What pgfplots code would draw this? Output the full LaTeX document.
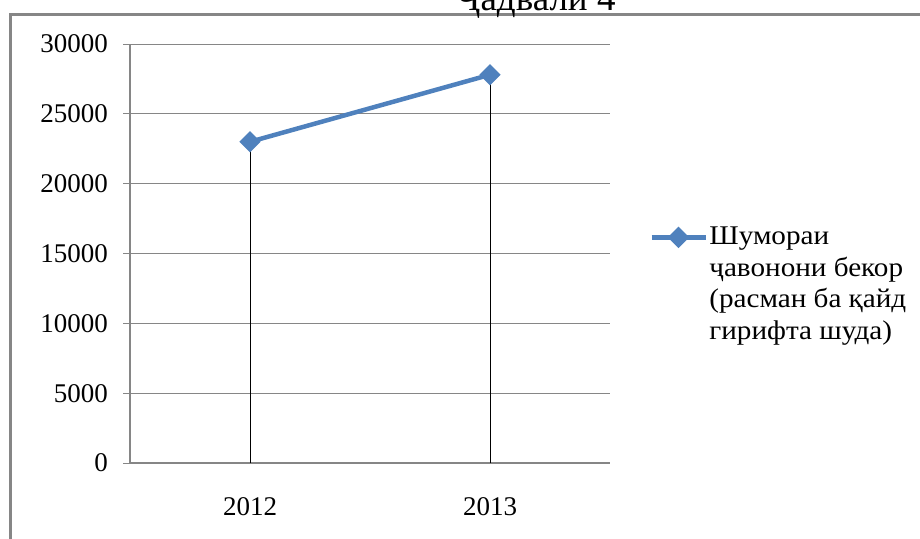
\documentclass[border=0pt]{standalone}
\usepackage{fontspec}
\setmainfont{Liberation Serif}
\newfontfamily\legfont[FakeStretch=1.08]{Liberation Serif}
\usepackage{pgfplots}
\pgfplotsset{compat=1.18}
\definecolor{xlblue}{HTML}{4F81BD}
\definecolor{xlgray}{HTML}{868686}

\begin{document}
\begin{tikzpicture}[x=0.5pt,y=0.5pt]
  \useasboundingbox (0,0) rectangle (920,538);
  % outer chart frame, cut by the page edge
  \draw[xlgray, line width=1.5pt] (10,-5) -- (10,524) -- (930,524);
  \node[anchor=base, font=\fontsize{18.5}{20}\selectfont] at (536,528) {Ҷадвали 4};

  \begin{axis}[
    at={(65pt,37.5pt)}, anchor=south west,
    scale only axis, width=240pt, height=209.5pt,
    xmin=-0.5, xmax=1.5, ymin=0, ymax=30000,
    xtick={0,1}, xticklabels={2012,2013},
    ytick={0,5000,...,30000},
    scaled y ticks=false,
    axis lines*=left,
    axis line style={xlgray, line width=0.75pt},
    ymajorgrids, grid style={xlgray, line width=0.5pt},
    major x tick style={draw=none},
    major y tick style={xlgray, line width=0.5pt},
    tick align=outside, major tick length=3.5pt,
    /pgf/number format/1000 sep={},
    /pgf/number format/assume math mode=true,
    tick label style={font=\fontsize{13.5}{15}\selectfont},
    yticklabel style={xshift=-4pt},
    xticklabel style={yshift=-10pt},
    legend style={at={(1.081,0.568)}, anchor=north west, draw=none, fill=none,
      inner sep=0pt, nodes={inner sep=0.8pt}},
    legend cell align=left,
    legend image code/.code={%
      \draw[mark repeat=2,mark phase=2] plot coordinates {(0pt,0pt)(13.5pt,0pt)(27pt,0pt)};},
  ]
    \addplot[xlblue, line width=2.25pt, mark=square*, mark size=2.65pt,
      mark options={rotate=45, solid}] coordinates {(0,23000) (1,27800)};
    \addlegendentry{\parbox[t]{110pt}{\raggedright\legfont\fontsize{13.5}{15.8}\selectfont
      Шумораи\\ҷавонони бекор\\(расман ба қайд\\гирифта шуда)}}
    % drop lines from points to the axis
    \addplot[ycomb, black, line width=0.5pt, no markers, forget plot]
      coordinates {(0,23000) (1,27800)};
  \end{axis}
\end{tikzpicture}
\end{document}
